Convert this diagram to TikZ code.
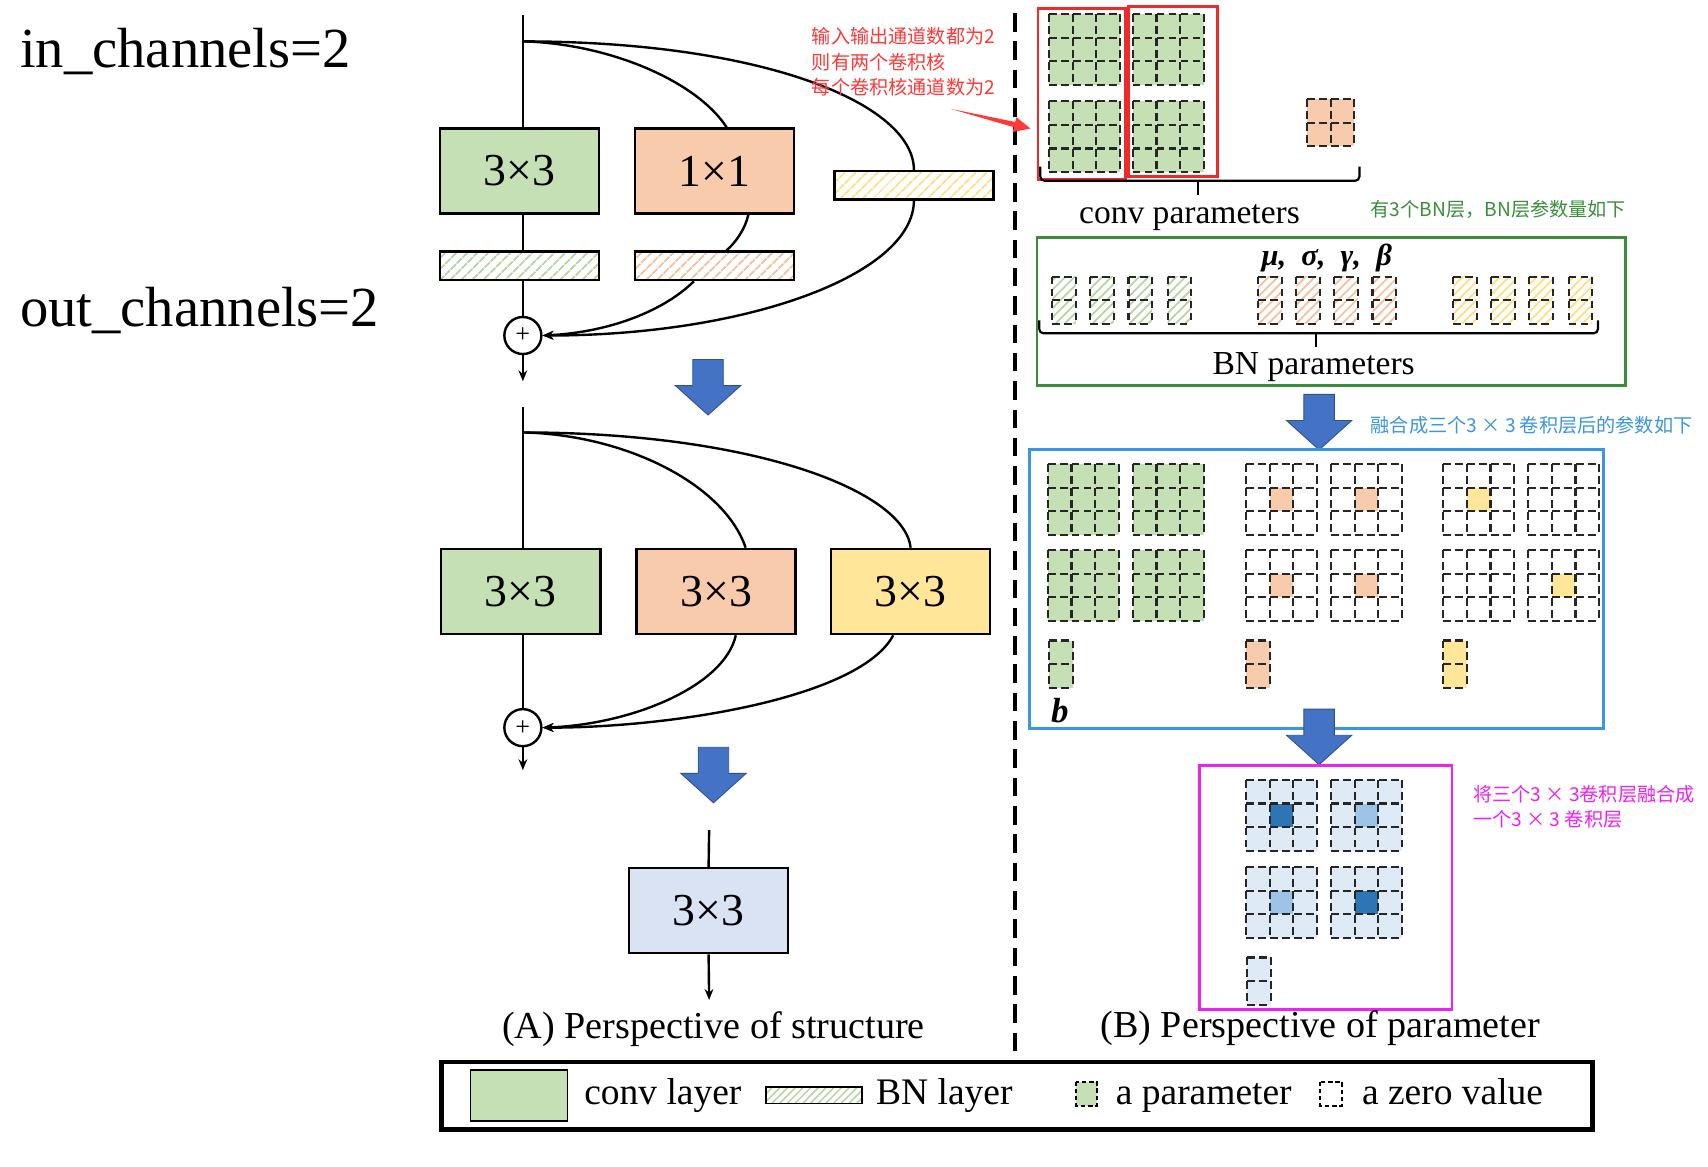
\documentclass[tikz,border=0pt]{standalone}
\usepackage{fontspec}
\setmainfont{Liberation Serif}
\newfontfamily\cjk{Noto Sans CJK SC}
\usetikzlibrary{arrows.meta,patterns.meta}
\definecolor{cgreen}{HTML}{C5E0B4}
\definecolor{corange}{HTML}{F8CBAD}
\definecolor{cyellow}{HTML}{FFE699}
\definecolor{cfuse}{HTML}{DAE3F3}
\definecolor{klight}{HTML}{DEEBF7}
\definecolor{kdark}{HTML}{2E75B6}
\definecolor{kmid}{HTML}{9DC3E6}
\definecolor{barrow}{HTML}{4472C4}
\definecolor{barrowd}{HTML}{2F528F}
\definecolor{annred}{HTML}{FF3838}
\definecolor{boxred}{HTML}{EE2A2A}
\definecolor{anngreen}{HTML}{3A8E3A}
\definecolor{annblue}{HTML}{3A96E0}
\definecolor{annmag}{HTML}{F020F0}
\definecolor{hgreen}{HTML}{B5D6A0}
\definecolor{horange}{HTML}{F6C09C}
\definecolor{hyellow}{HTML}{FFDF80}
\tikzset{
  layer/.style={draw=black, line width=1.2pt, minimum width=73pt, minimum height=39pt, inner sep=0pt, font=\fontsize{21}{21}\selectfont},
  bnbar/.style={draw=black, line width=1.2pt, minimum width=73pt, minimum height=13pt, inner sep=0pt, pattern={Lines[angle=45,distance=4pt,line width=0.9pt]}},
  wire/.style={line width=1.1pt},
  arr/.style={wire,-{Stealth[length=5pt,width=4pt]}},
  addnode/.style={circle, draw, line width=1.1pt, minimum size=17pt, inner sep=0pt, font=\fontsize{12}{12}\selectfont},
  dgrid/.style={dash pattern=on 3.5pt off 2pt, line width=1pt, black!85},
  bigarrow/.style={fill=barrow, draw=barrowd, line width=0.4pt},
  hatchg/.style={pattern={Lines[angle=45,distance=3pt,line width=0.8pt]}, pattern color=hgreen},
  hatcho/.style={pattern={Lines[angle=45,distance=3pt,line width=0.8pt]}, pattern color=horange},
  hatchy/.style={pattern={Lines[angle=45,distance=3pt,line width=0.8pt]}, pattern color=hyellow},
  ann/.style={anchor=west, inner sep=0pt, font=\cjk\fontsize{8.8}{10}\selectfont},
  captxt/.style={anchor=base, inner sep=0pt, font=\fontsize{17.5}{17.5}\selectfont},
  leg/.style={anchor=base west, inner sep=0pt, font=\fontsize{17.2}{17.2}\selectfont},
  ptxt/.style={anchor=base, inner sep=0pt, font=\fontsize{15.4}{15.4}\selectfont},
  framebox/.style={line width=1.3pt}
}
\newcommand{\kgrid}[6]{%
  \path[#5] (#1,#2) rectangle ({#1+#3*21.67},{#2+#4*21.67});
  \path[#6] ({#1+21.67},{#2+21.67}) rectangle ({#1+43.34},{#2+43.34});
  \foreach \i in {0,...,#3}{\draw[dgrid] ({#1+\i*21.67},#2) -- ({#1+\i*21.67},{#2+#4*21.67});}
  \foreach \j in {0,...,#4}{\draw[dgrid] (#1,{#2+\j*21.67}) -- ({#1+#3*21.67},{#2+\j*21.67});}
}
\newcommand{\bigdown}[2]{%
  \filldraw[bigarrow] ({#1-14},#2) -- ({#1+14},#2) -- ({#1+14},{#2+24}) -- ({#1+30},{#2+24}) -- (#1,{#2+51}) -- ({#1-30},{#2+24}) -- ({#1-14},{#2+24}) -- cycle;}
\begin{document}
\begin{tikzpicture}[x=0.5pt,y=-0.5pt]
\useasboundingbox (0,0) rectangle (1568,1071);
\fill[white] (0,0) rectangle (1568,1071);

% ---- left labels
\node[anchor=base west, inner sep=0pt, font=\fontsize{26}{26}\selectfont] (inch) at (18,62) {in\_channels=2};
\node[anchor=base west, inner sep=0pt, font=\fontsize{26}{26}\selectfont] (outch) at (18,300) {out\_channels=2};

% ---- block 1
\coordinate (top1) at (480,14);
\coordinate (br1) at (480,38);
\coordinate (out1) at (480,350);
\node[layer, fill=cgreen] (g1) at (477,157) {3×3};
\node[layer, fill=corange] (o1) at (656,157) {1×1};
\node[bnbar, pattern color=hyellow] (ybn1) at (839,170) {};
\node[bnbar, pattern color=hgreen] (gbn1) at (477,244) {};
\node[bnbar, pattern color=horange] (obn1) at (656,244) {};
\node[addnode] (add1) at (480,308) {+};
\draw[wire] (top1) -- (top1 |- g1.north);
\draw[wire] (top1 |- g1.south) -- (top1 |- gbn1.north);
\draw[wire] (top1 |- gbn1.south) -- (add1.north);
\draw[arr] (add1.south) -- (out1);
\draw[wire] (br1) .. controls (560,40) and (640,75) .. ([xshift=5.5pt]o1.north);
\draw[wire] (br1) .. controls (700,38) and (839,95) .. (ybn1.north);
\draw[wire] ([xshift=15.5pt]o1.south) .. controls (684,210) and (676,222) .. ([xshift=5.5pt]obn1.north);
\draw[arr] ([xshift=-9.5pt]obn1.south) .. controls (610,285) and (560,305) .. (add1.east);
\draw[arr] (ybn1.south) .. controls (839,252) and (686,308) .. (add1.east);

\bigdown{650}{330}

% ---- block 2
\coordinate (top2) at (480,374);
\coordinate (br2) at (480,397);
\coordinate (out2) at (480,707);
\node[layer, fill=cgreen] (g2) at (478,543) {3×3};
\node[layer, fill=corange] (o2) at (657.5,543) {3×3};
\node[layer, fill=cyellow] (y2) at (836,543) {3×3};
\node[addnode] (add2) at (480,668) {+};
\draw[wire] (top2) -- (top2 |- g2.north);
\draw[wire] (top2 |- g2.south) -- (add2.north);
\draw[arr] (add2.south) -- (out2);
\draw[wire] (br2) .. controls (575,399) and (665,445) .. ([xshift=13.5pt]o2.north);
\draw[wire] (br2) .. controls (690,397) and (830,450) .. (y2.north);
\draw[arr] ([xshift=9pt]o2.south) .. controls (665,630) and (580,665) .. (add2.east);
\draw[arr] ([xshift=-8pt]y2.south) .. controls (790,640) and (620,668) .. (add2.east);

\bigdown{655}{686}

% ---- block 3
\coordinate (top3) at (651,762);
\coordinate (out3) at (651,918);
\node[layer, fill=cfuse] (fused) at (650.5,836) {3×3};
\draw[wire] (top3) -- (fused.north);
\draw[arr] (fused.south) -- (out3);

\node[captxt] (capA) at (655,953) {(A) Perspective of structure};

% ---- divider
\draw[line width=2pt, dash pattern=on 8.5pt off 4.5pt] (932,12) -- (932,968);

% ---- conv parameters
\kgrid{963}{13}{3}{3}{fill=cgreen}{}
\kgrid{1040}{13}{3}{3}{fill=cgreen}{}
\kgrid{963}{93}{3}{3}{fill=cgreen}{}
\kgrid{1040}{93}{3}{3}{fill=cgreen}{}
\kgrid{1200}{91}{2}{2}{fill=corange}{}
\draw[boxred, line width=1.25pt] (953,8) rectangle (1033,165);
\draw[boxred, line width=1.25pt] (1036,6) rectangle (1118,162);
\draw[line width=1pt, rounded corners=2pt] (955,153) |- (1248,166) -- (1248,153);
\draw[line width=1pt] (1100,166) -- (1100,179);
\node[ptxt] (convp) at (1092,205) {conv parameters};

% red annotation
\node[ann, text=annred] (r1) at (745,33) {输入输出通道数都为2};
\node[ann, text=annred] (r2) at (745,57) {则有两个卷积核};
\node[ann, text=annred] (r3) at (745,80) {每个卷积核通道数为2};
\fill[annred] (873,100) -- (932,112) -- (933.1,107.6) -- (946,118) -- (929.7,121.2) -- (930.8,116.8) -- cycle;

% ---- BN parameters
\node[ann, text=anngreen] (gtxt) at (1258,192) {有3个BN层，BN层参数量如下};
\draw[anngreen, framebox] (952,218) rectangle (1492,354);
\node[anchor=base, inner sep=0pt, font=\bfseries\itshape\fontsize{14}{14}\selectfont] (greek) at (1218,244) {μ,\ \ σ,\ \ γ,\ \ β};
\foreach \x in {966,1001,1036,1072}{\kgrid{\x}{254}{1}{2}{hatchg}{}}
\foreach \x in {1155,1190,1225,1260}{\kgrid{\x}{254}{1}{2}{hatcho}{}}
\foreach \x in {1334,1369,1404,1440}{\kgrid{\x}{254}{1}{2}{hatchy}{}}
\draw[line width=1pt, rounded corners=2pt] (954,294) |- (1467,306) -- (1467,294);
\draw[line width=1pt] (1208,306) -- (1208,319);
\node[ptxt] (bnp) at (1206,344) {BN parameters};

\bigdown{1211}{362}
\node[ann, text=annblue] (btxt) at (1258,390) {融合成三个3 × 3 卷积层后的参数如下};

% ---- fused into three 3x3
\draw[annblue, framebox] (945,413) rectangle (1472,669);
\kgrid{962}{426}{3}{3}{fill=cgreen}{}
\kgrid{1040}{426}{3}{3}{fill=cgreen}{}
\kgrid{962}{505}{3}{3}{fill=cgreen}{}
\kgrid{1040}{505}{3}{3}{fill=cgreen}{}
\kgrid{1144}{426}{3}{3}{}{fill=corange}
\kgrid{1222}{426}{3}{3}{}{fill=corange}
\kgrid{1144}{505}{3}{3}{}{fill=corange}
\kgrid{1222}{505}{3}{3}{}{fill=corange}
\kgrid{1325}{426}{3}{3}{}{fill=cyellow}
\kgrid{1403}{426}{3}{3}{}{}
\kgrid{1325}{505}{3}{3}{}{}
\kgrid{1403}{505}{3}{3}{}{fill=cyellow}
\kgrid{963}{588}{1}{2}{fill=cgreen}{}
\kgrid{1144}{588}{1}{2}{fill=corange}{}
\kgrid{1325}{588}{1}{2}{fill=cyellow}{}
\node[anchor=base, inner sep=0pt, font=\bfseries\itshape\fontsize{16}{16}\selectfont] (bsym) at (973,663) {b};

\bigdown{1211}{651}

% ---- single 3x3
\draw[annmag, framebox] (1101,703) rectangle (1333,927);
\kgrid{1144}{716}{3}{3}{fill=klight}{fill=kdark}
\kgrid{1222}{716}{3}{3}{fill=klight}{fill=kmid}
\kgrid{1144}{796}{3}{3}{fill=klight}{fill=kmid}
\kgrid{1222}{796}{3}{3}{fill=klight}{fill=kdark}
\kgrid{1145}{879}{1}{2}{fill=klight}{}
\node[ann, text=annmag] (m1) at (1352,729) {将三个3 × 3卷积层融合成};
\node[ann, text=annmag] (m2) at (1352,752) {一个3 × 3 卷积层};

\node[captxt] (capB) at (1212,952) {(B) Perspective of parameter};

% ---- legend
\draw[line width=2.2pt] (405,975) rectangle (1462,1037);
\node[draw, line width=0.8pt, fill=cgreen, minimum width=44.5pt, minimum height=23.5pt, inner sep=0pt] (lconv) at (476.5,1005.5) {};
\node[leg] (lconvt) at (536,1014) {conv layer};
\node[draw, line width=0.8pt, minimum width=44pt, minimum height=7.5pt, inner sep=0pt, pattern={Lines[angle=45,distance=2.5pt,line width=0.7pt]}, pattern color=hgreen] (lbn) at (747,1005.5) {};
\node[leg] (lbnt) at (804,1014) {BN layer};
\path[fill=cgreen] (988,993) rectangle (1007,1015);
\draw[dash pattern=on 2pt off 1.3pt, line width=0.8pt] (988,993) rectangle (1007,1015);
\node[leg] (lpar) at (1024,1014) {a parameter};
\draw[dash pattern=on 2pt off 1.3pt, line width=0.8pt] (1212,993) rectangle (1232,1015);
\node[leg] (lzero) at (1250,1014) {a zero value};
\end{tikzpicture}
\end{document}
